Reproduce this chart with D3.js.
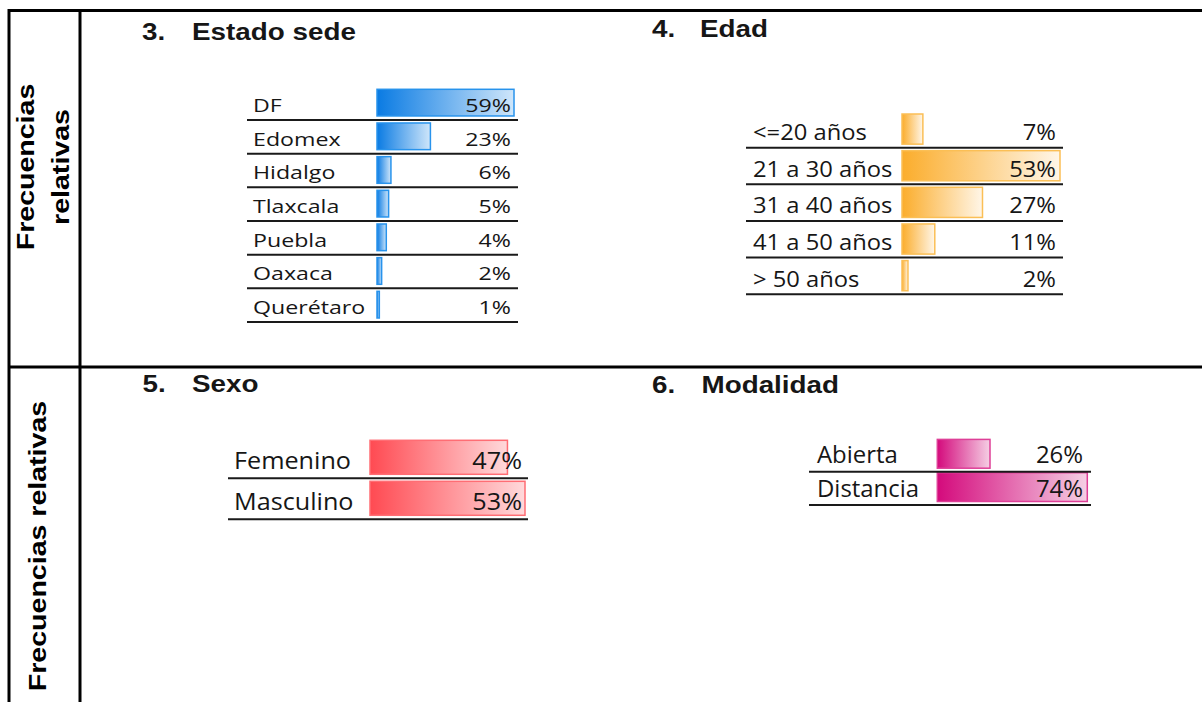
<!DOCTYPE html>
<html>
<head>
<meta charset="utf-8">
<script src="https://cdn.jsdelivr.net/npm/d3@7"></script>
<style>
  body { margin: 0; background: #fff; }
  svg { display: block; }
</style>
</head>
<body>
<svg id="chart" width="1202" height="702"></svg>
<script>
// data
const estadoLabels = ["DF", "Edomex", "Hidalgo", "Tlaxcala", "Puebla", "Oaxaca", "Querétaro"];
const estadoValues = [59, 23, 6, 5, 4, 2, 1];

const edadLabels = ["<=20 años", "21 a 30 años", "31 a 40 años", "41 a 50 años", "> 50 años"];
const edadValues = [7, 53, 27, 11, 2];

const sexoLabels = ["Femenino", "Masculino"];
const sexoValues = [47, 53];

const modalidadLabels = ["Abierta", "Distancia"];
const modalidadValues = [26, 74];

const titles = [
  { num: "3.", text: "Estado sede" },
  { num: "4.", text: "Edad" },
  { num: "5.", text: "Sexo" },
  { num: "6.", text: "Modalidad" }
];
const sideLabel = ["Frecuencias", "relativas"];

const svg = d3.select("#chart");
const defs = svg.append("defs");

// text helper, the original pictures have their text stretched sideways
function stretchedText(g, x, y, str, size, sx, anchor, family, weight) {
  g.append("g")
    .attr("transform", `translate(${x},${y}) scale(${sx},1)`)
    .append("text")
    .attr("text-anchor", anchor)
    .style("font-family", family)
    .style("font-size", size + "px")
    .style("font-weight", weight || "normal")
    .attr("fill", "#161616")
    .text(str);
}

// ---- table frame ----
const frame = svg.append("g").attr("stroke", "#000").attr("stroke-width", 3);
frame.append("line").attr("x1", 8).attr("x2", 1202).attr("y1", 10.5).attr("y2", 10.5);
frame.append("line").attr("x1", 8).attr("x2", 1202).attr("y1", 367).attr("y2", 367);
frame.append("line").attr("x1", 9).attr("x2", 9).attr("y1", 9).attr("y2", 702);
frame.append("line").attr("x1", 80).attr("x2", 80).attr("y1", 9).attr("y2", 702);

// side labels (rotated)
const headFont = "'Liberation Sans', Arial, sans-serif";
function sideText(x, y, str) {
  svg.append("g")
    .attr("transform", `translate(${x},${y}) rotate(-90) scale(1.19,1)`)
    .append("text")
    .attr("text-anchor", "middle")
    .style("font-family", headFont)
    .style("font-size", "24px")
    .style("font-weight", "bold")
    .attr("fill", "#000")
    .text(str);
}
sideText(34, 167, sideLabel[0]);
sideText(68.5, 167, sideLabel[1]);
sideText(45.5, 546, sideLabel.join(" "));

// headings
const headPos = [
  { nx: 142, tx: 192, y: 39.5 },
  { nx: 652, tx: 700, y: 37 },
  { nx: 142.5, tx: 192, y: 392 },
  { nx: 652, tx: 701.5, y: 393 }
];
titles.forEach((t, i) => {
  const p = headPos[i];
  stretchedText(svg, p.nx, p.y, t.num, 23, 1.21, "start", headFont, "bold");
  stretchedText(svg, p.tx, p.y, t.text, 23, 1.21, "start", headFont, "bold");
});

// ---- data bar tables ----
const bodyFont = "'Open Sans', 'DejaVu Sans', sans-serif";

function dataBarTable(id, labels, values, cfg) {
  const grad = defs.append("linearGradient").attr("id", id);
  grad.append("stop").attr("offset", "0%").attr("stop-color", cfg.c0);
  grad.append("stop").attr("offset", "100%").attr("stop-color", cfg.c1);

  const y = d3.scaleBand()
    .domain(labels)
    .range([cfg.top, cfg.top + labels.length * cfg.rowH]);
  const x = d3.scaleLinear()
    .domain([0, d3.max(values)])
    .range([0, cfg.maxW]);

  const g = svg.append("g");
  const rows = labels.map((l, i) => ({ label: l, value: values[i] }));

  g.selectAll("rect.bar")
    .data(rows)
    .enter()
    .append("rect")
    .attr("class", "bar")
    .attr("x", cfg.barX)
    .attr("y", d => y(d.label) + cfg.padT)
    .attr("width", d => x(d.value))
    .attr("height", y.bandwidth() - cfg.padT - cfg.padB)
    .attr("fill", `url(#${id})`)
    .attr("stroke", cfg.stroke)
    .attr("stroke-width", 1.5);

  g.selectAll("line.sep")
    .data(rows)
    .enter()
    .append("line")
    .attr("class", "sep")
    .attr("x1", cfg.lineX0)
    .attr("x2", cfg.lineX1)
    .attr("y1", d => y(d.label) + y.bandwidth())
    .attr("y2", d => y(d.label) + y.bandwidth())
    .attr("stroke", "#1a1a1a")
    .attr("stroke-width", 2);

  rows.forEach(d => {
    const base = y(d.label) + y.bandwidth() - cfg.baseOff;
    stretchedText(g, cfg.labelX, base, d.label, cfg.size, cfg.sx, "start", bodyFont);
    stretchedText(g, cfg.valueX, base, d.value + "%", cfg.size, cfg.sx, "end", bodyFont);
  });
}

dataBarTable("gBlue", estadoLabels, estadoValues, {
  top: 86.3, rowH: 33.67, barX: 377, maxW: 137, padT: 3, padB: 4,
  lineX0: 247, lineX1: 518, labelX: 253, valueX: 511, baseOff: 8,
  size: 19, sx: 1.22, c0: "#0a7be3", c1: "#cfe6fa", stroke: "#2893ec"
});

dataBarTable("gOrange", edadLabels, edadValues, {
  top: 111, rowH: 36.65, barX: 902, maxW: 158, padT: 3, padB: 3.5,
  lineX0: 746, lineX1: 1063, labelX: 753, valueX: 1056, baseOff: 7.7,
  size: 22, sx: 1.08, c0: "#fbad2c", c1: "#fff6e8", stroke: "#fbbf55"
});

dataBarTable("gRed", sexoLabels, sexoValues, {
  top: 437.3, rowH: 41, barX: 370, maxW: 155, padT: 3, padB: 4,
  lineX0: 228, lineX1: 528, labelX: 234, valueX: 522, baseOff: 9,
  size: 24, sx: 1.05, c0: "#ff4a52", c1: "#ffd9db", stroke: "#ff6d74"
});

dataBarTable("gPink", modalidadLabels, modalidadValues, {
  top: 438.4, rowH: 33.3, barX: 937.3, maxW: 150, padT: 1, padB: 3.5,
  lineX0: 809, lineX1: 1091, labelX: 817, valueX: 1083, baseOff: 8.4,
  size: 23, sx: 1.04, c0: "#d40a7c", c1: "#f5cfe4", stroke: "#de3f97"
});
</script>
</body>
</html>
